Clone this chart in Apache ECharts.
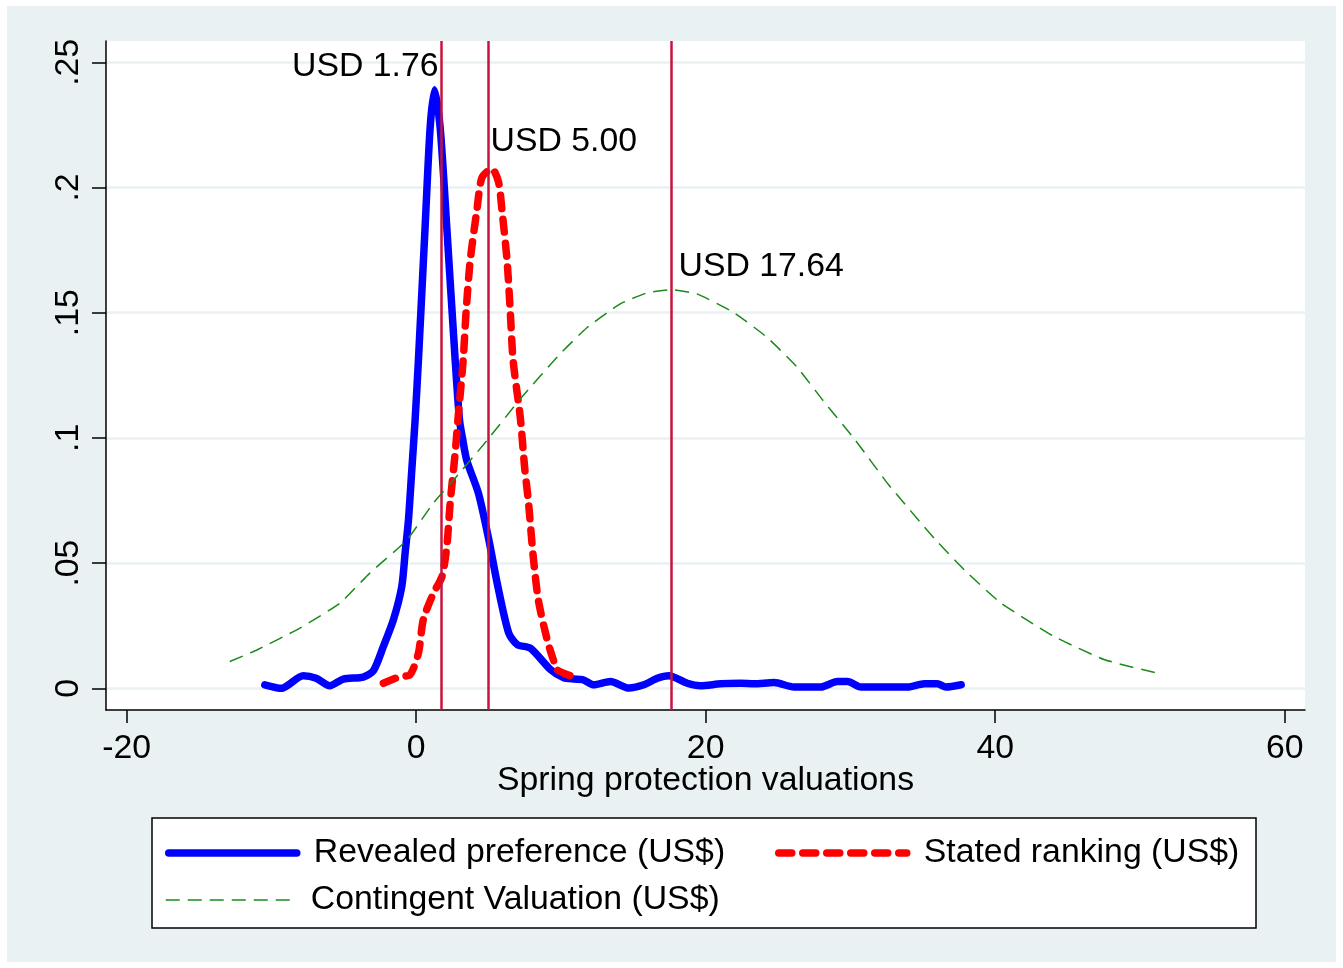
<!DOCTYPE html>
<html><head><meta charset="utf-8">
<script src="https://cdn.jsdelivr.net/npm/echarts@6/dist/echarts.min.js"></script>
<style>html,body{margin:0;padding:0;background:#fff;}#wrap{position:absolute;left:7px;top:6px;width:1329px;height:956px;}</style>
</head><body><div id="wrap"></div>
<script>
const xTicks = [-20, 0, 20, 40, 60];
const yTicks = [0, 0.05, 0.1, 0.15, 0.2, 0.25];
const yTickLabels = ['0', '.05', '.1', '.15', '.2', '.25'];
const xTitle = 'Spring protection valuations';
const seriesNames = ['Revealed preference (US$)', 'Stated ranking (US$)', 'Contingent Valuation (US$)'];

const revealed = [
  [-10.45,0.0014],[-9.3,0.0],[-7.8,0.005],[-6.9,0.004],[-5.95,0.001],[-5.03,0.0037],[-3.65,0.0045],
  [-2.95,0.007],[-2.26,0.0167],[-1.57,0.0273],[-0.99,0.0406],[-0.76,0.0539],[-0.53,0.0671],[-0.3,0.087],
  [-0.07,0.107],[0.16,0.131],[0.62,0.184],[0.97,0.224],[1.27,0.239],[1.66,0.224],[2.12,0.184],[2.7,0.131],
  [3.0,0.107],[3.2,0.100],[3.5,0.091],[4.3,0.078],[5.0,0.060],[5.6,0.042],[6.4,0.022],[7.0,0.0174],
  [7.9,0.016],[9.3,0.0074],[10.2,0.0042],[10.9,0.0037],[11.5,0.0035],[12.27,0.0014],[13.43,0.0027],
  [14.7,0.0001],[15.73,0.0014],[16.66,0.004],[17.46,0.005],[18.73,0.002],[19.65,0.001],[21.04,0.0018],
  [22.42,0.002],[23.34,0.0018],[24.73,0.0023],[26.1,0.0005],[27.96,0.0005],[29.1,0.0027],[29.8,0.0027],
  [30.73,0.0005],[33.96,0.0005],[35.1,0.0018],[36.0,0.0018],[36.6,0.0005],[37.65,0.0014]
];
const stated = [
  [-2.26,0.002],[-1.1,0.0047],[-0.42,0.0054],[0.16,0.014],[0.5,0.0275],[1.2,0.038],[1.78,0.0445],
  [2.12,0.0565],[2.35,0.0738],[2.7,0.094],[2.9,0.108],[3.25,0.131],[3.46,0.151],[3.74,0.171],[4.2,0.191],
  [4.55,0.204],[5.24,0.2075],[5.7,0.202],[5.93,0.191],[6.28,0.171],[6.5,0.151],[6.7,0.131],[7.2,0.108],
  [7.5,0.088],[7.75,0.075],[8.1,0.052],[8.45,0.035],[9.07,0.019],[9.5,0.011],[9.74,0.0074],[10.2,0.006],
  [11.12,0.004]
];
const contingent = [
  [-12.87,0.0107],[-11.0,0.0153],[-8.0,0.0241],[-5.26,0.034],[-3.2,0.046],[-0.64,0.0592],[1.18,0.0739],
  [2.56,0.083],[4.9,0.099],[7.2,0.1156],[9.97,0.1337],[11.8,0.144],[14.1,0.1535],[16.0,0.158],[17.6,0.1592],
  [19.4,0.1575],[21.96,0.150],[24.27,0.140],[26.35,0.128],[28.1,0.115],[30.26,0.0997],[32.57,0.0818],
  [35.8,0.0598],[37.88,0.0472],[40.4,0.034],[44.1,0.0206],[47.56,0.0114],[51.37,0.0058]
];
const refLines = [1.76, 5.00, 17.64];
const annotX = [1.76, 5.00, 17.64];
const annotY = [0.25, 0.22, 0.17];
const annotText = ['USD 1.76', 'USD 5.00', 'USD 17.64'];
const annotSide = ['left', 'right', 'right'];

const FF = '"Liberation Sans", Arial, sans-serif';
const FS = 33.8;
const chart = echarts.init(document.getElementById('wrap'), null, {renderer: 'canvas'});

const legendBase = {
  orient: 'horizontal', padding: 0, itemWidth: 128, itemHeight: 14, itemGap: 0,
  selectedMode: false,
  itemStyle: {opacity: 0, borderWidth: 0},
  textStyle: {fontSize: FS, fontFamily: FF, color: '#000', padding: [0, 0, 0, 12]}
};

const option = {
  animation: false,
  backgroundColor: '#eaf1f3',
  textStyle: {fontFamily: FF},
  grid: {left: 99, right: 31, top: 35, bottom: 252, show: true, backgroundColor: '#fff', borderWidth: 0},
  graphic: [{
    type: 'rect', z: 1, shape: {x: 145, y: 812, width: 1104, height: 110},
    style: {fill: '#fff', stroke: '#000', lineWidth: 1.5}
  }],
  legend: [
    Object.assign({}, legendBase, {data: [seriesNames[0]], left: 158, top: 830, lineStyle: {width: 7.5}}),
    Object.assign({}, legendBase, {data: [seriesNames[1]], left: 768, top: 830, lineStyle: {width: 7.5}}),
    Object.assign({}, legendBase, {data: [seriesNames[2]], left: 158, top: 877, lineStyle: {width: 1.5}})
  ],
  xAxis: {
    type: 'value', min: -21.42, max: 61.4,
    name: xTitle, nameLocation: 'middle', nameGap: 54, nameMoveOverlap: false,
    nameTextStyle: {fontSize: FS, fontFamily: FF, color: '#000'},
    axisLine: {show: true, onZero: false, lineStyle: {color: '#000', width: 1.5}},
    axisTick: {show: true, length: 13, lineStyle: {color: '#000', width: 1.5}, customValues: xTicks},
    axisLabel: {customValues: xTicks, fontSize: FS, fontFamily: FF, color: '#000', margin: 22},
    splitLine: {show: false}
  },
  yAxis: {
    type: 'value', min: -0.00867, max: 0.2585,
    axisLine: {show: true, onZero: false, lineStyle: {color: '#000', width: 1.5}},
    axisTick: {show: true, length: 14, lineStyle: {color: '#000', width: 1.5}, customValues: yTicks},
    axisLabel: {
      customValues: yTicks, rotate: 90, fontSize: FS, fontFamily: FF, color: '#000', margin: 20,
      formatter: function (v) { const i = yTicks.findIndex(t => Math.abs(t - v) < 1e-9); return i >= 0 ? yTickLabels[i] : ''; }
    },
    splitLine: {show: true, lineStyle: {color: '#eaf1f3', width: 2.5}}
  },
  series: [
    {
      name: seriesNames[0], type: 'line', data: revealed, symbol: 'none', smooth: 0.25, z: 3,
      lineStyle: {color: '#0000ff', width: 7.5, cap: 'round', join: 'round'}, itemStyle: {color: '#0000ff'}
    },
    {
      name: seriesNames[1], type: 'line', data: stated, symbol: 'none', smooth: 0.25, z: 4,
      lineStyle: {color: '#ff0000', width: 7.5, type: [13, 11], cap: 'round', join: 'round'}, itemStyle: {color: '#ff0000'}
    },
    {
      name: seriesNames[2], type: 'line', data: contingent, symbol: 'none', smooth: 0.15, z: 5,
      lineStyle: {color: '#1a8a1a', width: 1.5, type: [14, 8]}, itemStyle: {color: '#1a8a1a'}
    },
    {
      name: 'refLines', type: 'line', data: [], z: 6,
      markLine: {
        silent: true, symbol: 'none', animation: false,
        lineStyle: {color: '#c8143c', width: 2.5, type: 'solid'},
        label: {show: false},
        data: refLines.map(v => ({xAxis: v}))
      }
    },
    {
      name: 'annot', type: 'scatter', symbolSize: 0, z: 7,
      itemStyle: {opacity: 1},
      data: annotX.map((x, i) => ({
        value: [x, annotY[i]],
        label: {show: true, position: annotSide[i], distance: annotSide[i] === 'left' ? 3 : (i === 2 ? 7 : 2),
          offset: [0, 4], formatter: annotText[i], fontSize: FS, fontFamily: FF, color: '#000', opacity: 1}
      }))
    }
  ]
};
chart.setOption(option);
</script></body></html>
